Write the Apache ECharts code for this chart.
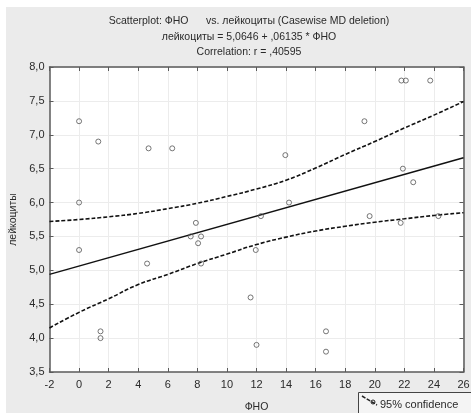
<!DOCTYPE html>
<html>
<head>
<meta charset="utf-8">
<script src="https://cdn.jsdelivr.net/npm/echarts@6/dist/echarts.min.js"></script>
<style>
  html, body { margin: 0; padding: 0; background: #fff; }
  #chart { width: 471px; height: 413px; }
</style>
</head>
<body>
<div id="chart"></div>
<script>
// observations: [ФНО, лейкоциты]
const points = [
    [0, 7.2], [0, 6.0], [0, 5.3],
    [1.3, 6.9], [1.45, 4.1], [1.45, 4.0],
    [4.6, 5.1], [4.7, 6.8], [6.3, 6.8],
    [7.55, 5.5], [7.9, 5.7], [8.05, 5.4], [8.25, 5.5], [8.25, 5.1],
    [11.6, 4.6], [11.95, 5.3], [12.0, 3.9], [12.3, 5.8],
    [13.95, 6.7], [14.2, 6.0],
    [16.7, 4.1], [16.7, 3.8],
    [19.3, 7.2], [19.65, 5.8],
    [21.75, 5.7], [21.8, 7.8], [22.1, 7.8], [21.9, 6.5], [22.6, 6.3],
    [23.75, 7.8], [24.3, 5.8]
];

// fitted line, read at the two ends of the axis
const fitLine = [[-2, 4.94], [26, 6.66]];

// 95% confidence bands
const bandX = [-2, 0, 2, 4, 6, 8, 10, 12, 14, 16, 18, 20, 22, 24, 26];
const bandUpper = [5.72, 5.75, 5.79, 5.84, 5.91, 5.99, 6.09, 6.20, 6.33, 6.51, 6.71, 6.90, 7.10, 7.29, 7.49];
const bandLower = [4.15, 4.38, 4.58, 4.79, 4.94, 5.10, 5.24, 5.38, 5.49, 5.58, 5.65, 5.71, 5.76, 5.81, 5.85];

const titleLines = [
    'Scatterplot: ФНО      vs. лейкоциты (Casewise MD deletion)',
    'лейкоциты = 5,0646 + ,06135 * ФНО',
    'Correlation: r = ,40595'
];

const font = '"Liberation Sans", Arial, sans-serif';
const textColor = '#2a2a2a';
const frameColor = '#5a5a5a';

const zip = function (xs, ys) {
    return xs.map((x, i) => [x, ys[i]]);
};

const chart = echarts.init(document.getElementById('chart'));

const hiddenAxis = {
    axisLabel: { show: false },
    axisLine: { show: true, onZero: false, lineStyle: { color: frameColor, width: 1.5 } },
    axisTick: { show: true, inside: true, length: 4, lineStyle: { color: frameColor } },
    splitLine: { show: false }
};

const titleText = function (text, y) {
    return {
        type: 'text', x: 249, y: y, silent: true,
        style: { text: text, font: '10.5px ' + font, fill: textColor, align: 'center', verticalAlign: 'middle' }
    };
};

chart.setOption({
    animation: false,
    textStyle: { fontFamily: font },

    graphic: [
        // grey panel
        { type: 'rect', left: 6, top: 7, z: -10, silent: true,
          shape: { width: 465, height: 406 }, style: { fill: '#ebebeb' } },
        // plot background
        { type: 'rect', left: 49.5, top: 67, z: -5, silent: true,
          shape: { width: 414, height: 305 }, style: { fill: '#ffffff' } },
        // titles
        titleText(titleLines[0], 21),
        titleText(titleLines[1], 37),
        titleText(titleLines[2], 52),
        // legend box
        { type: 'rect', left: 358, top: 392, silent: true,
          shape: { width: 120, height: 30 }, style: { fill: '#f4f4f4', stroke: '#444', lineWidth: 1 } },
        { type: 'line', silent: true,
          shape: { x1: 362, y1: 396, x2: 377, y2: 405 },
          style: { stroke: '#222', lineWidth: 1.5, lineDash: [4, 1.5] } },
        { type: 'circle', silent: true,
          shape: { cx: 373, cy: 402, r: 2 }, style: { fill: 'none', stroke: '#222', lineWidth: 1 } },
        { type: 'text', left: 380, top: 399, style: { text: '95% confidence', font: '11px ' + font, fill: textColor } }
    ],

    grid: {
        left: 49.5,
        right: 7.5,
        top: 67,
        bottom: 41,
        containLabel: false,
        outerBoundsMode: 'none'
    },

    xAxis: [{
        type: 'value',
        min: -2,
        max: 26,
        interval: 2,
        name: 'ФНО',
        nameLocation: 'middle',
        nameGap: 30,
        nameTextStyle: { color: textColor, fontSize: 10.5 },
        axisLabel: { color: textColor, fontSize: 11, margin: 7 },
        axisLine: { show: true, onZero: false, lineStyle: { color: frameColor, width: 1.5 } },
        axisTick: { show: true, inside: true, length: 4, lineStyle: { color: frameColor } },
        splitLine: { show: true, lineStyle: { color: '#ececec', width: 1 } }
    }, Object.assign({
        type: 'value', position: 'top', min: -2, max: 26, interval: 2
    }, hiddenAxis)],

    yAxis: [{
        type: 'value',
        min: 3.5,
        max: 8,
        interval: 0.5,
        name: 'лейкоциты',
        nameLocation: 'middle',
        nameGap: 27,
        nameTextStyle: { color: textColor, fontSize: 10.5 },
        axisLabel: {
            color: textColor,
            fontSize: 11,
            margin: 5,
            formatter: v => v.toFixed(1).replace('.', ',')
        },
        axisLine: { show: true, onZero: false, lineStyle: { color: frameColor, width: 1.5 } },
        axisTick: { show: true, inside: true, length: 4, lineStyle: { color: frameColor } },
        splitLine: { show: true, lineStyle: { color: '#ececec', width: 1 } }
    }, Object.assign({
        type: 'value', position: 'right', min: 3.5, max: 8, interval: 0.5
    }, hiddenAxis)],

    series: [
        {
            name: 'fit',
            type: 'line',
            symbol: 'none',
            lineStyle: { color: '#111', width: 1.5 },
            data: fitLine
        },
        {
            name: '95% confidence',
            type: 'line',
            smooth: true,
            symbol: 'none',
            lineStyle: { color: '#111', width: 1.6, type: [4, 2] },
            data: zip(bandX, bandUpper)
        },
        {
            name: '95% confidence lower',
            type: 'line',
            smooth: true,
            symbol: 'none',
            lineStyle: { color: '#111', width: 1.6, type: [4, 2] },
            data: zip(bandX, bandLower)
        },
        {
            name: 'points',
            type: 'scatter',
            symbol: 'circle',
            symbolSize: 5,
            itemStyle: { color: 'rgba(255,255,255,0)', borderColor: '#555', borderWidth: 1 },
            data: points,
            z: 5
        }
    ]
});
</script>
</body>
</html>
